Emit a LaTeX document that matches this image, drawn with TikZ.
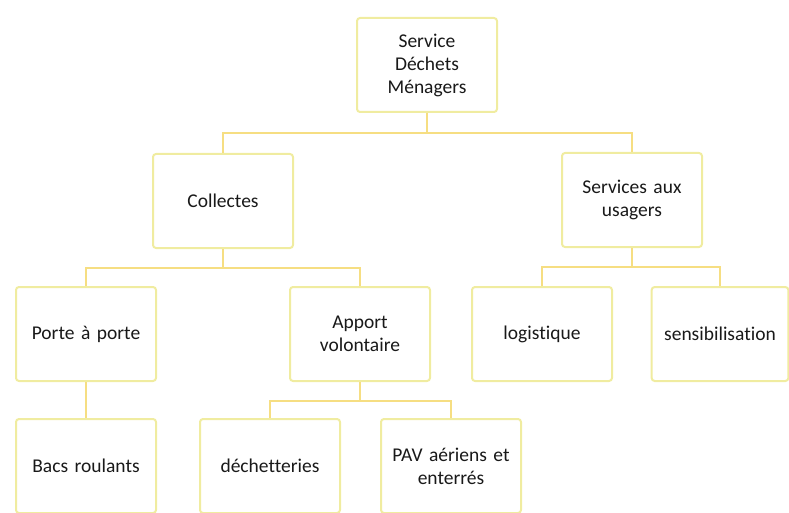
\documentclass[tikz,border=0pt]{standalone}
\usepackage{fontspec}
\setmainfont{Carlito}[Ligatures=NoCommon]
\definecolor{boxline}{RGB}{240,236,160}
\definecolor{linkline}{RGB}{246,222,130}
\definecolor{txt}{RGB}{25,25,25}
\begin{document}
\begin{tikzpicture}[x=1pt,y=-1pt,
  orgbox/.style={draw=boxline, line width=2pt, rounded corners=3pt, fill=white,
    minimum width=140pt, minimum height=94pt, align=center, text width=130pt,
    text=txt, font=\fontsize{19.5}{23}\selectfont},
  link/.style={draw=linkline, line width=1.6pt}]
\useasboundingbox (0,0) rectangle (789,513);
\node[orgbox] (sdm) at (427,65) {Service\\Déchets\\Ménagers};
\node[orgbox] (col) at (223,201) {Collectes};
\node[orgbox] (sau) at (632,200) {Services aux\\usagers};
\node[orgbox] (pap) at (86,334) {Porte à porte};
\node[orgbox] (av) at (360,334) {Apport\\volontaire};
\node[orgbox] (log) at (542,334) {logistique};
\node[orgbox, minimum width=136pt] (sen) at (720,334) {sensibilisation};
\node[orgbox] (bac) at (86,466) {Bacs roulants};
\node[orgbox] (dec) at (270,466) {déchetteries};
\node[orgbox] (pav) at (451,466) {PAV aériens et\\enterrés};
\draw[link] (sdm.south) -- ++(0,20) -| (col.north);
\draw[link] (sdm.south) -- ++(0,20) -| (sau.north);
\draw[link] (col.south) -- ++(0,19) -| (pap.north);
\draw[link] (col.south) -- ++(0,19) -| (av.north);
\draw[link] (sau.south) -- ++(0,19) -| (log.north);
\draw[link] (sau.south) -- ++(0,19) -| (sen.north);
\draw[link] (pap.south) -- (bac.north);
\draw[link] (av.south) -- ++(0,19) -| (dec.north);
\draw[link] (av.south) -- ++(0,19) -| (pav.north);
\end{tikzpicture}
\end{document}
